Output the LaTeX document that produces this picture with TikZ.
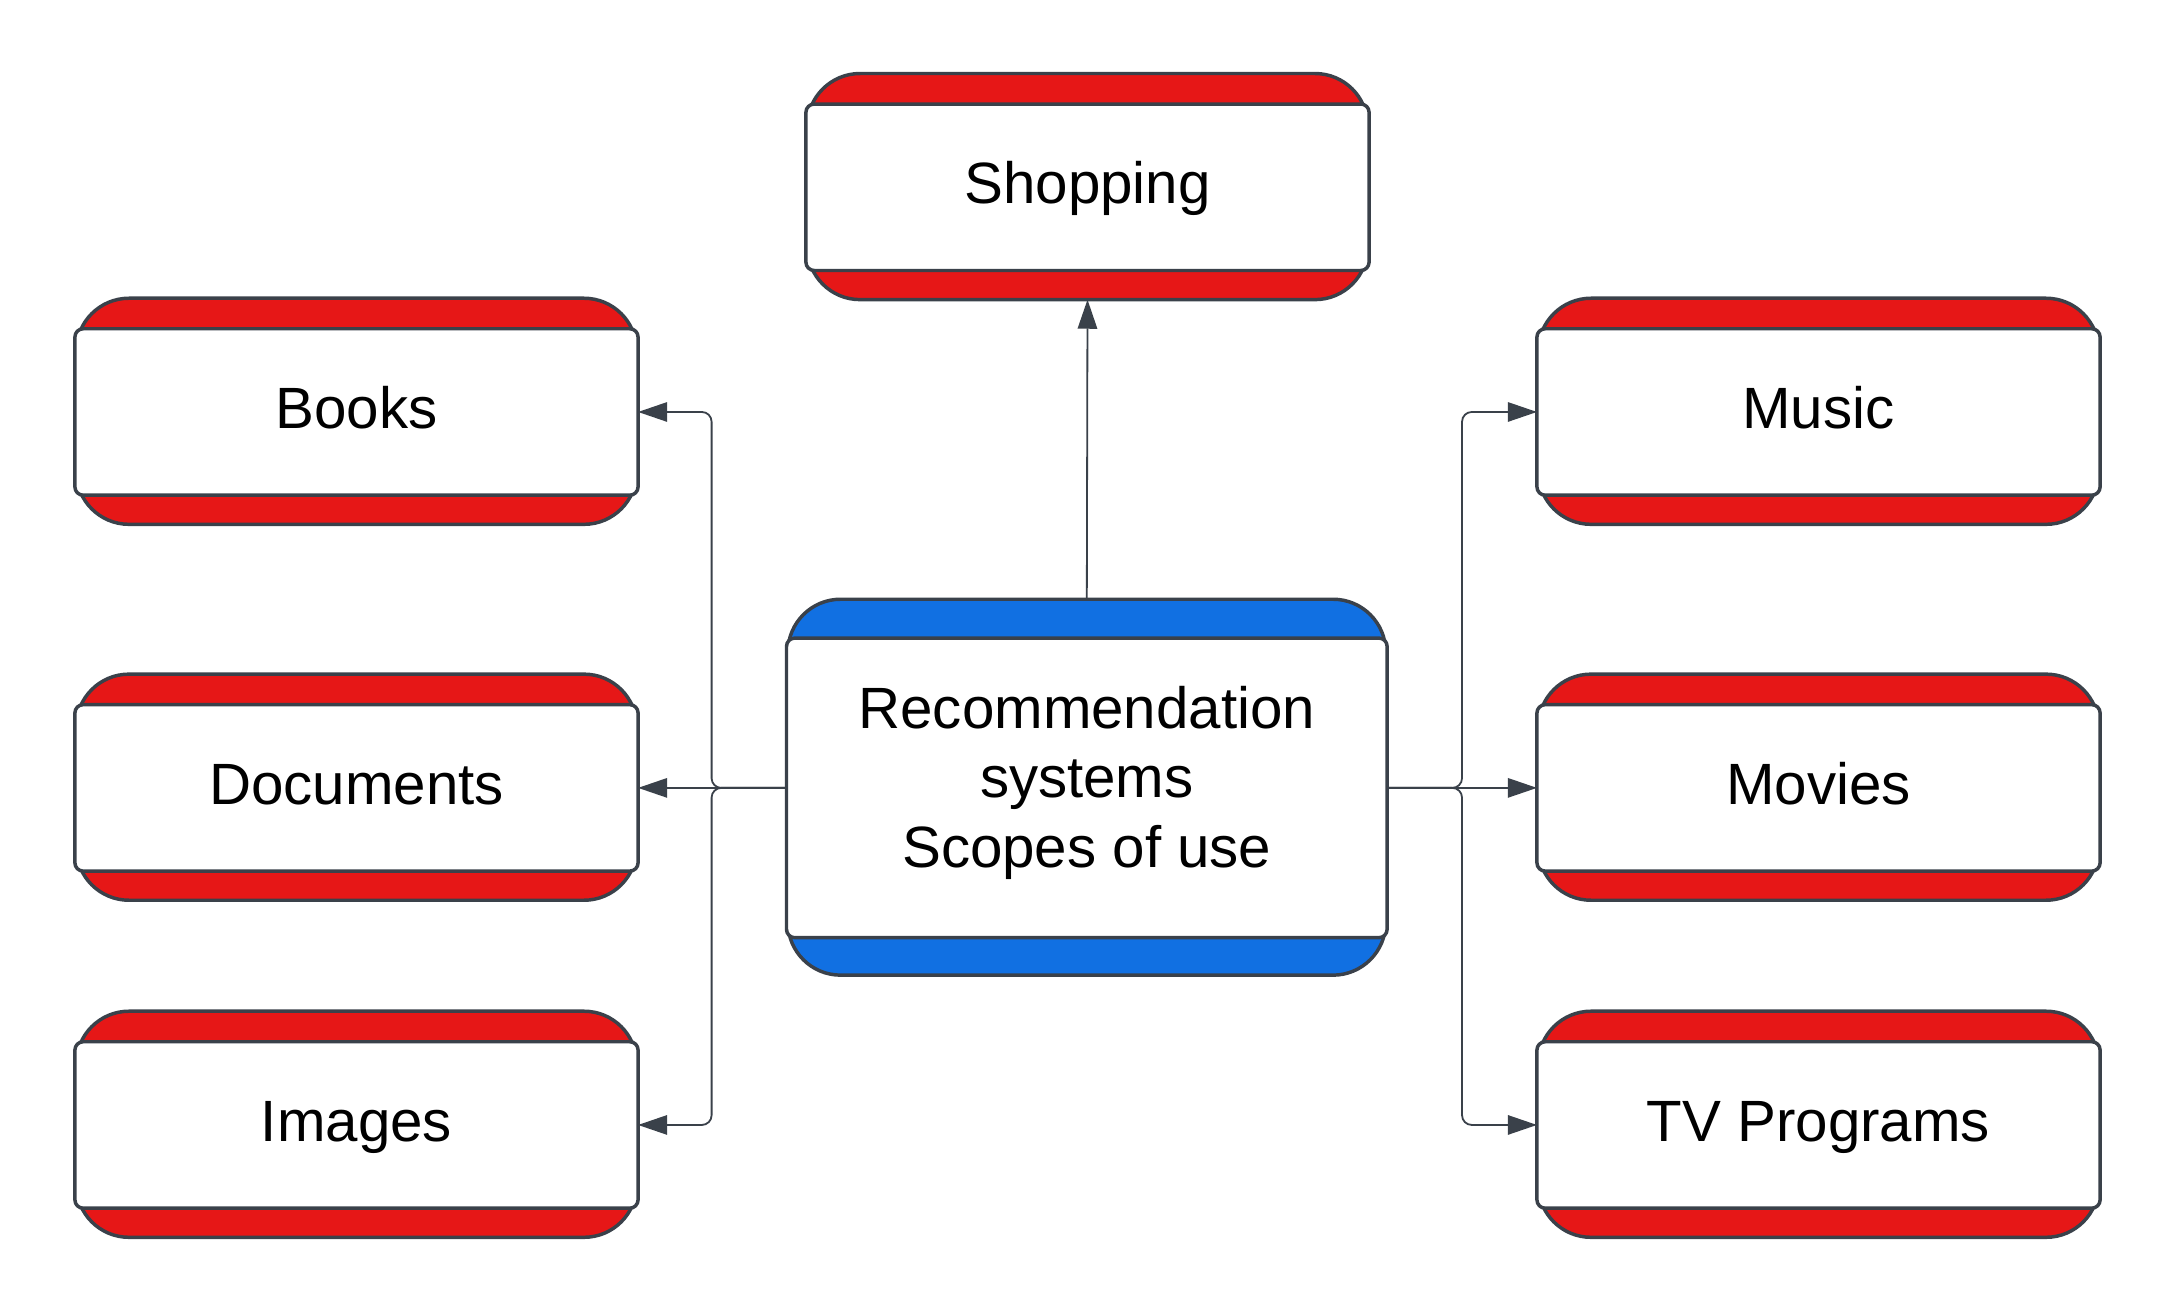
\documentclass[tikz,border=0pt]{standalone}
\usepackage{fontspec}
\setmainfont{Liberation Sans}
\usetikzlibrary{arrows.meta}
\definecolor{capred}{HTML}{E61717}
\definecolor{capblue}{HTML}{1170E2}
\definecolor{edge}{HTML}{3A414A}
\tikzset{
  x=1pt, y=-1pt,
  capshape/.style={draw=edge, line width=2.5pt, rounded corners=38pt, inner sep=0pt, outer sep=0pt,
    minimum width=404pt, minimum height=163pt},
  inbox/.style={draw=edge, line width=2.5pt, fill=white, rounded corners=6pt, inner sep=0pt, outer sep=0pt,
    minimum width=406pt, minimum height=120pt, font=\fontsize{42}{50}\selectfont, align=center},
  oneline/.style={text height=30.5pt, text depth=7pt},
  conn/.style={draw=edge, line width=1.3pt, rounded corners=7pt, -{Triangle[length=21pt,width=14pt]}},
}
\begin{document}
\begin{tikzpicture}
\useasboundingbox (0,0) rectangle (1568,946.6);
% caps
\node[capshape, fill=capred] (shop-c) at (784,134.5) {};
\node[capshape, fill=capred] (books-c) at (257,296.5) {};
\node[capshape, fill=capred] (docs-c) at (257,567.5) {};
\node[capshape, fill=capred] (img-c) at (257,810.5) {};
\node[capshape, fill=capred] (music-c) at (1311,296.5) {};
\node[capshape, fill=capred] (movies-c) at (1311,567.5) {};
\node[capshape, fill=capred] (tv-c) at (1311,810.5) {};
\node[capshape, fill=capblue, minimum width=431pt, minimum height=271pt] (cen-c) at (783.5,567.5) {};
% inner boxes
\node[inbox, oneline] (shop) at (784,135) {Shopping};
\node[inbox, oneline] (books) at (257,297) {Books};
\node[inbox, oneline] (docs) at (257,568) {Documents};
\node[inbox, oneline] (img) at (257,811) {Images};
\node[inbox, oneline] (music) at (1311,297) {Music};
\node[inbox, oneline] (movies) at (1311,568) {Movies};
\node[inbox, oneline] (tv) at (1311,811) {TV Programs};
\node[inbox, minimum width=433pt, minimum height=216pt, text depth=16pt] (cen) at (783.5,568) {Recommendation\\systems\\Scopes of use};
% junctions
\coordinate (jl) at (513,568);
\coordinate (jr) at (1054,568);
% connectors
\draw[conn] (cen-c.north) -- (shop-c.south);
\draw[conn] (cen.west) -- (jl) |- (books.east);
\draw[conn] (cen.west) -- (docs.east);
\draw[conn] (cen.west) -- (jl) |- (img.east);
\draw[conn] (cen.east) -- (jr) |- (music.west);
\draw[conn] (cen.east) -- (movies.west);
\draw[conn] (cen.east) -- (jr) |- (tv.west);
\end{tikzpicture}
\end{document}
